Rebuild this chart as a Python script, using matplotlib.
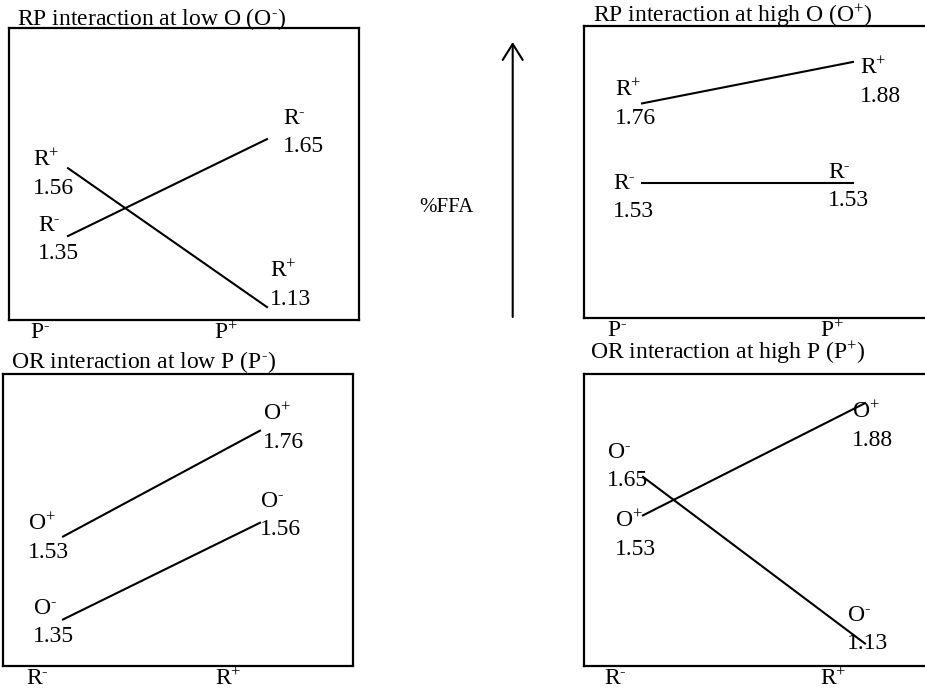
import matplotlib
matplotlib.use("Agg")
import matplotlib.pyplot as plt
from matplotlib.patches import FancyArrowPatch

plt.rcParams['font.family'] = ['Liberation Serif', 'DejaVu Serif']
plt.rcParams['mathtext.fontset'] = 'custom'
plt.rcParams['mathtext.rm'] = 'Liberation Serif'
plt.rcParams['mathtext.it'] = 'Liberation Serif'
plt.rcParams['mathtext.bf'] = 'Liberation Serif:bold'

# data (%FFA at each factor combination)
x_levels = [0, 1]
rp_low_o_r_plus = [1.56, 1.13]
rp_low_o_r_minus = [1.35, 1.65]
rp_high_o_r_plus = [1.76, 1.88]
rp_high_o_r_minus = [1.53, 1.53]
or_low_p_o_plus = [1.53, 1.76]
or_low_p_o_minus = [1.35, 1.56]
or_high_p_o_plus = [1.53, 1.88]
or_high_p_o_minus = [1.65, 1.13]

titles = [r"RP interaction at low O (O$^{\text{-}}$)",
          r"RP interaction at high O (O$^{+}$)",
          r"OR interaction at low P (P$^{\text{-}}$)",
          r"OR interaction at high P (P$^{+}$)"]
p_ticks = [r"P$^{\text{-}}$", r"P$^{+}$"]
r_ticks = [r"R$^{\text{-}}$", r"R$^{+}$"]
r_names = [r"R$^{+}$", r"R$^{\text{-}}$"]
o_names = [r"O$^{+}$", r"O$^{\text{-}}$"]

W, H = 925, 695
fig = plt.figure(figsize=(W / 100, H / 100), dpi=100)

# layout: (left px, top px), title offset, tick label positions, ylim, xlim,
# label offsets in px (dx, dy down) for [series][left, right]
panels = [
    dict(box=(9, 28), title_x=0.023, title_y=1.01, tick_x=[0.089, 0.62],
         ticks=p_ticks, names=r_names, series=[rp_low_o_r_plus, rp_low_o_r_minus],
         ylim=(1.090, 1.994), xlim=(-0.2965, 1.4623),
         offs=[[(-35, 6), (3, -22)], [(-30, 3.5), (16, -6.5)]]),
    dict(box=(584, 26), title_x=0.026, title_y=1.014, tick_x=[0.094, 0.709],
         ticks=p_ticks, names=r_names, series=[rp_high_o_r_plus, rp_high_o_r_minus],
         ylim=(1.139, 1.984), xlim=(-0.2749, 1.3839),
         offs=[[(-27, 1), (7, 20)], [(-29, 15), (-25, 4)]]),
    dict(box=(3, 374), title_x=0.023, title_y=1.02, tick_x=[0.097, 0.643],
         ticks=r_ticks, names=o_names, series=[or_low_p_o_plus, or_low_p_o_minus],
         ylim=(1.249, 1.883), xlim=(-0.3046, 1.4721),
         offs=[[(-35, 2), (3, -2)], [(-30, 3), (0, -7)]]),
    dict(box=(584, 374), title_x=0.017, title_y=1.05, tick_x=[0.091, 0.711],
         ticks=r_ticks, names=o_names, series=[or_high_p_o_plus, or_high_p_o_minus],
         ylim=(1.060, 1.971), xlim=(-0.2658, 1.3108),
         offs=[[(-28, 20), (-13, 23)], [(-36, -10), (-18, -14)]]),
]

box_w, box_h = 350, 292
for title, p in zip(titles, panels):
    left, top = p["box"]
    ax = fig.add_axes([left / W, (H - top - box_h) / H, box_w / W, box_h / H])
    for name, vals, offs in zip(p["names"], p["series"], p["offs"]):
        ax.plot(x_levels, vals, color='black', linewidth=1.5)
        for x, v, (dx, dy) in zip(x_levels, vals, offs):
            ax.annotate(f"{name}\n{v:.2f}", xy=(x, v), xytext=(dx, -dy),
                        textcoords='offset pixels', ha='left', va='center',
                        fontsize=17, linespacing=1.45)
    ax.set_xlim(p["xlim"])
    ax.set_ylim(p["ylim"])
    ax.set_xticks([])
    ax.set_yticks([])
    for s in ax.spines.values():
        s.set_linewidth(1.6)
        s.set_color('black')
    ax.text(p["title_x"], p["title_y"], title, transform=ax.transAxes,
            ha='left', va='baseline', fontsize=17)
    for tx, lab in zip(p["tick_x"], p["ticks"]):
        ax.text(tx, -0.008, lab, transform=ax.transAxes, ha='center', va='top',
                fontsize=17)

# %FFA arrow in the middle
arrow = FancyArrowPatch((512.7 / W, (H - 317) / H), (512.7 / W, (H - 42) / H),
                        transform=fig.transFigure,
                        arrowstyle='->,head_length=11.5,head_width=7.2',
                        mutation_scale=1, linewidth=1.5, color='black',
                        shrinkA=0, shrinkB=0)
fig.add_artist(arrow)
fig.text(446 / W, (H - 207) / H, "%FFA", ha='center', va='center', fontsize=15)

plt.savefig("out.png", dpi=100)
